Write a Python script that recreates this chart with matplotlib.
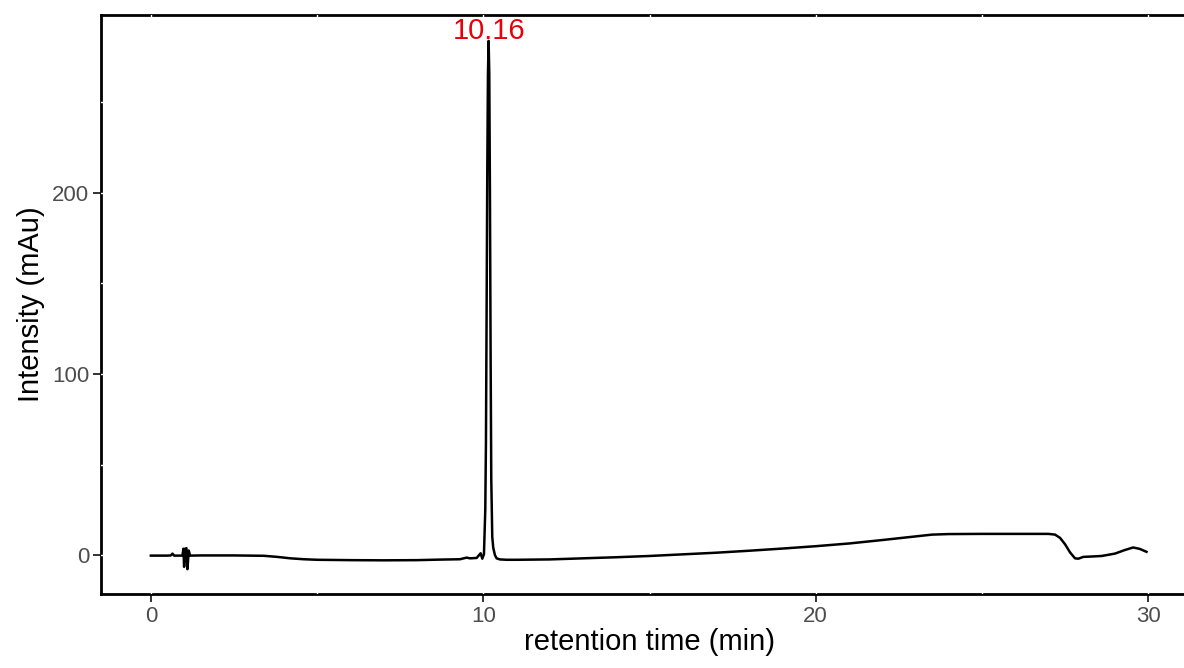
import matplotlib
matplotlib.use("Agg")
from matplotlib import pyplot as plt

plt.rcParams['font.family'] = ['Liberation Sans', 'DejaVu Sans']

# retention time (min) and intensity (mAu)
time = [0.0, 0.5, 0.6, 0.65, 0.7, 0.95, 0.98, 1.0, 1.03, 1.07, 1.1, 1.14, 1.18,
        1.5, 2.5, 3.4, 3.8, 4.2, 4.6, 5.0, 6.0, 7.0, 8.0, 8.7, 9.3, 9.5, 9.6,
        9.8, 9.92, 9.97, 10.02, 10.06, 10.08, 10.10, 10.12, 10.14, 10.16, 10.18,
        10.20, 10.22, 10.24, 10.27, 10.30, 10.35, 10.40, 10.5, 10.7, 11.0, 12.0,
        13.0, 14.0, 15.0, 16.0, 17.0, 18.0, 19.0, 20.0, 21.0, 22.0, 23.0, 23.5,
        24.0, 25.0, 26.0, 27.0, 27.2, 27.35, 27.5, 27.65, 27.8, 27.9, 28.05,
        28.3, 28.6, 29.0, 29.3, 29.55, 29.75, 29.95]
intensity = [-0.3, -0.3, -0.2, 0.8, -0.3, -0.3, 3.5, -6.5, 3.5, 3.8, -7.8, 2.5, -0.3,
             -0.2, -0.2, -0.4, -1.0, -1.8, -2.3, -2.6, -2.8, -2.9, -2.8, -2.5, -2.3, -1.4, -1.8,
             -1.6, 1.0, -2.0, 0.5, 25, 62, 135, 212, 265, 284, 266,
             200, 112, 42, 10, 4, 0, -1.8, -2.4, -2.6, -2.6, -2.4,
             -1.8, -1.2, -0.5, 0.4, 1.3, 2.4, 3.6, 4.9, 6.4, 8.3, 10.3, 11.3,
             11.6, 11.7, 11.7, 11.7, 11.3, 9.5, 6.0, 1.5, -1.8, -2.0, -1.0,
             -0.8, -0.5, 0.8, 2.8, 4.2, 3.4, 1.8]

peak_time = 10.16
peak_label = "10.16"
x_ticks = [0, 10, 20, 30]
y_ticks = [0, 100, 200]

fig = plt.figure(figsize=(11.84, 6.68), dpi=100)
ax = fig.add_axes([101 / 1184, 74 / 668, 1097 / 1184, 579 / 668])

ax.plot(time, intensity, color='black', lw=1.8, zorder=4)
ax.text(peak_time, max(intensity) + 1, peak_label, color='#E8000B', fontsize=21,
        ha='center', va='baseline', zorder=5)

ax.set_xlim(-1.5, 31.5)
ax.set_ylim(-21.5, 298.3)
ax.set_xticks(x_ticks)
ax.set_yticks(y_ticks)

# white grid lines: invisible on the white panel but they cut the border
for gx in range(0, 35, 5):
    ax.axvline(gx, color='white', lw=1.0, zorder=3)
for gy in range(0, 300, 50):
    ax.axhline(gy, color='white', lw=1.0, zorder=3)

for side in ['left', 'bottom', 'top', 'right']:
    ax.spines[side].set_linewidth(2.0)
    ax.spines[side].set_color('black')

ax.tick_params(axis='both', length=5.5, width=1.4, color='#333333',
               labelsize=16, labelcolor='#4D4D4D', pad=3)
ax.set_xlabel("retention time (min)", fontsize=21, labelpad=1)
ax.set_ylabel("Intensity (mAu)", fontsize=21, labelpad=5)

fig.savefig("out.png", dpi=100)
